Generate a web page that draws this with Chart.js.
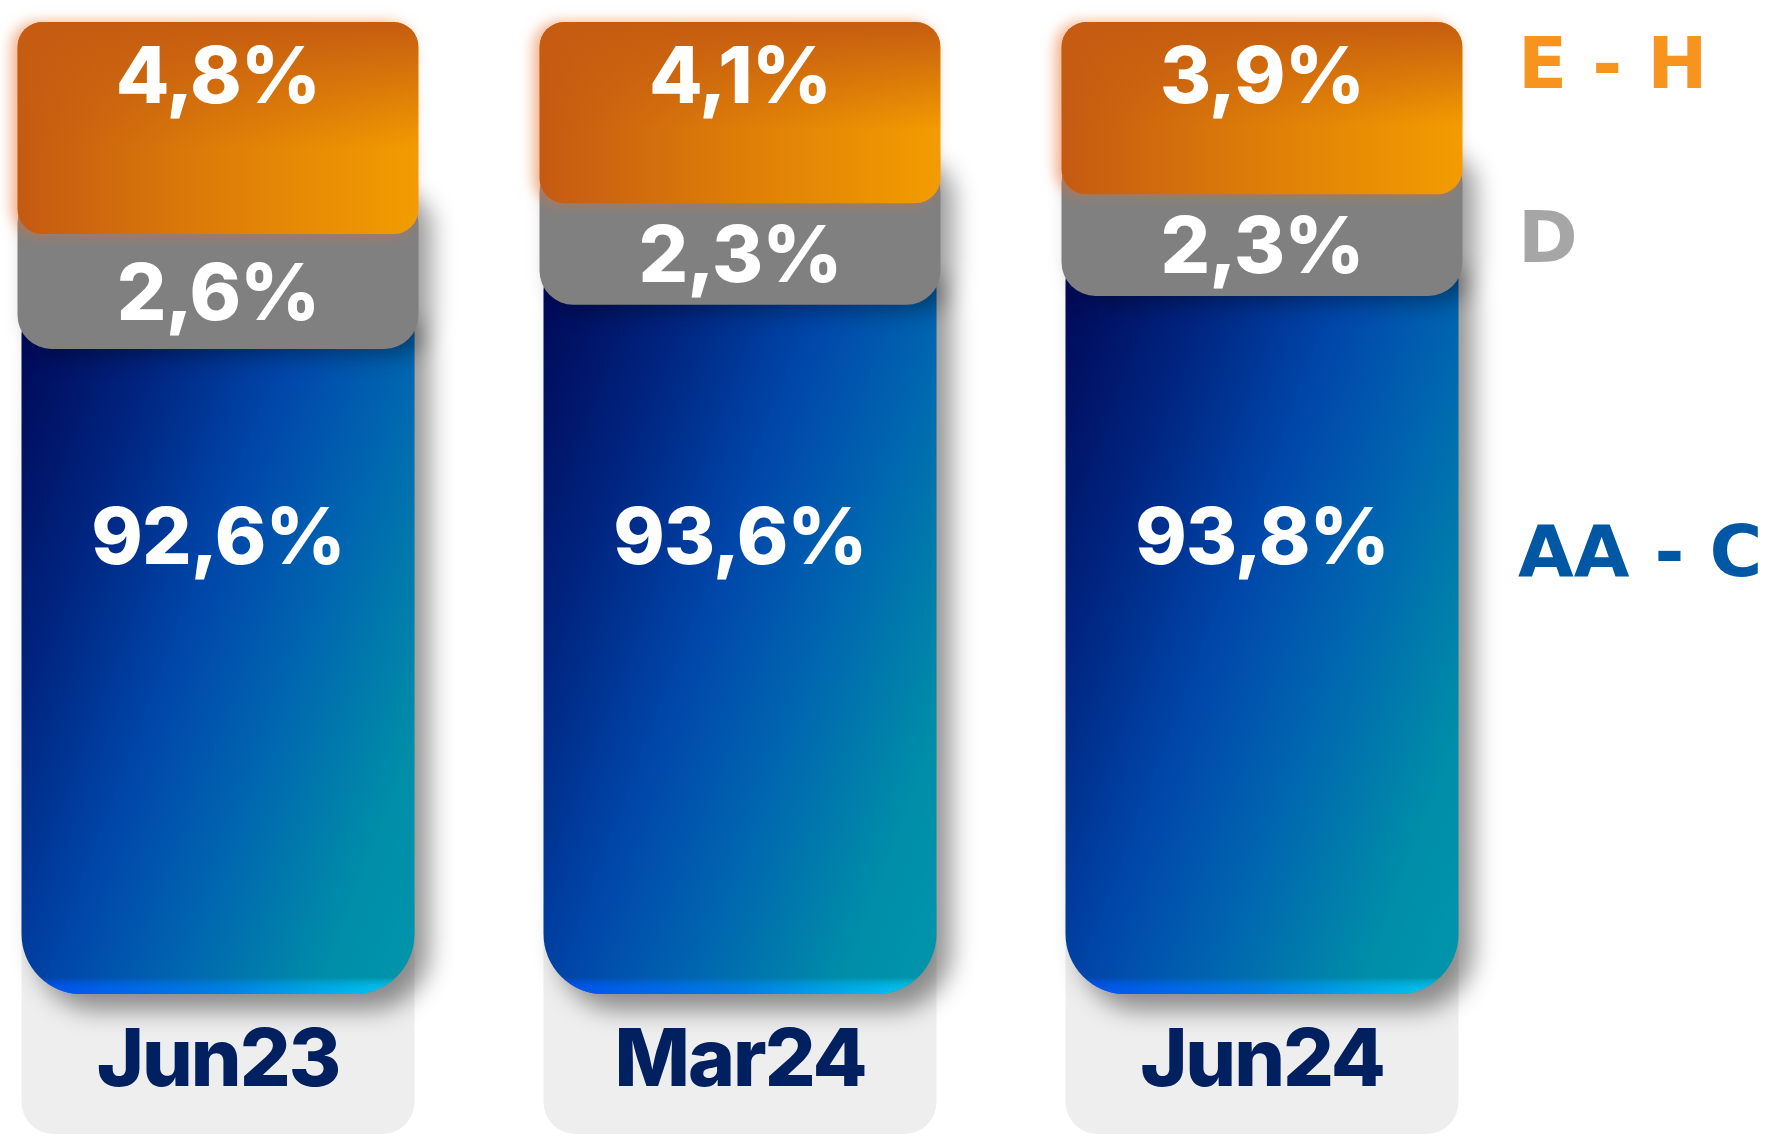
<!DOCTYPE html>
<html lang="en">
<head>
<meta charset="UTF-8">
<title>Rating distribution</title>
<script src="https://cdn.jsdelivr.net/npm/chart.js"></script>
<style>
  html, body { margin: 0; background: #fff; }
  #wrap { width: 1770px; height: 1136px; }
</style>
</head>
<body>
<div id="wrap"><canvas id="ratingChart" width="1770" height="1136"></canvas></div>
<script>
const categories = ['Jun23', 'Mar24', 'Jun24'];
const gradeAAtoC = [92.6, 93.6, 93.8];
const gradeD = [2.6, 2.3, 2.3];
const gradeEtoH = [4.8, 4.1, 3.9];
const seriesNames = ['AA - C', 'D', 'E - H'];

function pct(v) {
    return v.toFixed(1).replace('.', ',') + '%';
}

// bars are drawn as overlapping cards, each lower piece tucked under the one above
const cardBars = {
    id: 'cardBars',
    beforeDatasetsDraw(chart) {
        const ctx = chart.ctx;
        const area = chart.chartArea;
        const blueMeta = chart.getDatasetMeta(0);
        const greyMeta = chart.getDatasetMeta(1);
        const orangeMeta = chart.getDatasetMeta(2);
        const tuck = 45;

        categories.forEach((cat, i) => {
            const b = blueMeta.data[i];
            const g = greyMeta.data[i];
            const o = orangeMeta.data[i];

            const bLeft = b.x - b.width / 2;
            const bBottom = Math.min(b.base, area.bottom);

            // light card behind the category label
            ctx.save();
            ctx.fillStyle = '#eeeeee';
            ctx.beginPath();
            ctx.roundRect(bLeft, bBottom - 120, b.width, chart.height - 2 - (bBottom - 120), 32);
            ctx.fill();
            ctx.restore();

            // blue piece, diagonal gradient navy -> royal blue -> teal
            const bTop = b.y - tuck;
            const bH = bBottom - bTop;
            const dx = 0.936, dy = 0.353;
            const span = b.width * dx + (bBottom - b.y) * dy;
            const blueGrad = ctx.createLinearGradient(bLeft, b.y, bLeft + span * dx, b.y + span * dy);
            blueGrad.addColorStop(0, '#000a58');
            blueGrad.addColorStop(0.2, '#00237e');
            blueGrad.addColorStop(0.43, '#0047aa');
            blueGrad.addColorStop(0.62, '#0066b0');
            blueGrad.addColorStop(0.85, '#008ea8');
            blueGrad.addColorStop(1, '#0096ac');
            ctx.save();
            ctx.shadowColor = 'rgba(0,0,0,0.42)';
            ctx.shadowBlur = 24;
            ctx.shadowOffsetX = 15;
            ctx.shadowOffsetY = 16;
            ctx.fillStyle = blueGrad;
            ctx.beginPath();
            ctx.roundRect(bLeft, bTop, b.width, bH, [30, 30, 60, 60]);
            ctx.fill();
            ctx.restore();

            // bright rim along the bottom
            ctx.save();
            ctx.beginPath();
            ctx.roundRect(bLeft, bTop, b.width, bH, [30, 30, 60, 60]);
            ctx.clip();
            const rim = ctx.createLinearGradient(bLeft, 0, bLeft + b.width, 0);
            rim.addColorStop(0, '#0050ff');
            rim.addColorStop(0.5, '#0080f0');
            rim.addColorStop(1, '#00d8ff');
            ctx.fillStyle = rim;
            for (let s = 0; s < 16; s++) {
                ctx.globalAlpha = 0.12;
                ctx.fillRect(bLeft, bBottom - 16 + s, b.width, 16 - s);
            }
            ctx.restore();

            // grey piece
            const gLeft = g.x - g.width / 2;
            const gTop = g.y - tuck;
            ctx.save();
            ctx.shadowColor = 'rgba(0,0,0,0.4)';
            ctx.shadowBlur = 24;
            ctx.shadowOffsetX = 13;
            ctx.shadowOffsetY = 4;
            ctx.fillStyle = '#808080';
            ctx.beginPath();
            ctx.roundRect(gLeft, gTop, g.width, g.base - gTop, 34);
            ctx.fill();
            ctx.restore();

            // orange piece
            const oLeft = o.x - o.width / 2;
            const oH = o.base - o.y;
            ctx.save();
            ctx.shadowColor = 'rgba(235,110,40,0.55)';
            ctx.shadowBlur = 14;
            ctx.shadowOffsetX = -6;
            const orangeGrad = ctx.createLinearGradient(oLeft, 0, oLeft + o.width, 0);
            orangeGrad.addColorStop(0, '#c45a12');
            orangeGrad.addColorStop(0.5, '#de7e08');
            orangeGrad.addColorStop(1, '#f39c00');
            ctx.fillStyle = orangeGrad;
            ctx.beginPath();
            ctx.roundRect(oLeft, o.y, o.width, oH, 25);
            ctx.fill();
            ctx.restore();

            ctx.save();
            ctx.beginPath();
            ctx.roundRect(oLeft, o.y, o.width, oH, 25);
            ctx.clip();
            const shade = ctx.createLinearGradient(0, o.y, 0, o.y + oH);
            shade.addColorStop(0, 'rgba(197,92,17,1)');
            shade.addColorStop(0.6, 'rgba(197,92,17,0)');
            ctx.fillStyle = shade;
            ctx.fillRect(oLeft, o.y, o.width, oH);
            ctx.restore();
        });

        // value labels
        ctx.save();
        ctx.fillStyle = '#ffffff';
        ctx.textAlign = 'center';
        ctx.textBaseline = 'alphabetic';
        ctx.font = '800 78px Inter';
        ctx.letterSpacing = '-1px';
        categories.forEach((cat, i) => {
            const b = blueMeta.data[i];
            const g = greyMeta.data[i];
            const o = orangeMeta.data[i];
            ctx.fillText(pct(gradeEtoH[i]), o.x, o.y + 81);
            ctx.fillText(pct(gradeD[i]), g.x, (g.y + g.base) / 2 + 28);
            ctx.fillText(pct(gradeAAtoC[i]), b.x, area.top + area.height * 0.558);
        });

        // category labels
        ctx.fillStyle = '#002060';
        ctx.font = '800 80px Inter';
        ctx.letterSpacing = '-2px';
        categories.forEach((cat, i) => {
            const b = blueMeta.data[i];
            ctx.fillText(chart.data.labels[i], b.x, area.bottom + 92);
        });

        // series names on the right
        ctx.textAlign = 'left';
        ctx.font = 'bold 72px "DejaVu Sans"';
        ctx.letterSpacing = '0px';
        const names = [
            { idx: 2, color: '#f7941d', y: area.top + 66 },
            { idx: 1, color: '#a6a6a6', y: area.top + 240 },
            { idx: 0, color: '#0058a5', y: area.top + 554 }
        ];
        names.forEach(n => {
            ctx.fillStyle = n.color;
            ctx.fillText(chart.data.datasets[n.idx].label, 1518, n.y);
        });
        ctx.restore();

        return false;
    }
};

new Chart(document.getElementById('ratingChart'), {
    type: 'bar',
    data: {
        labels: categories,
        datasets: [
            { label: seriesNames[0], data: gradeAAtoC, backgroundColor: '#0047ab', barThickness: 393 },
            { label: seriesNames[1], data: gradeD, backgroundColor: '#808080', barThickness: 401 },
            { label: seriesNames[2], data: gradeEtoH, backgroundColor: '#e07b0a', barThickness: 401 }
        ]
    },
    options: {
        responsive: false,
        animation: false,
        devicePixelRatio: 1,
        layout: { padding: { left: 218, right: 508, top: 22, bottom: 142 } },
        plugins: {
            legend: { display: false },
            tooltip: { enabled: false }
        },
        scales: {
            x: { stacked: true, offset: false, display: false },
            y: { stacked: true, min: 78, max: 100, display: false }
        }
    },
    plugins: [cardBars]
});
</script>
</body>
</html>
